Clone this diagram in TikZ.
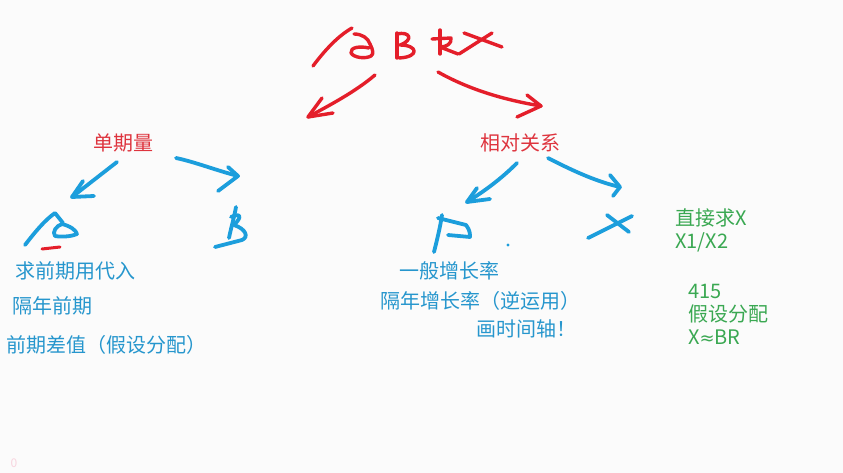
\documentclass[tikz,border=0pt]{standalone}
\usepackage{fontspec}
\setmainfont{Noto Sans CJK SC}
\newfontfamily\symfont{DejaVu Sans}
\definecolor{penred}{RGB}{228,30,42}
\definecolor{penblue}{RGB}{28,158,220}
\definecolor{txtred}{RGB}{222,52,62}
\definecolor{txtblue}{RGB}{38,150,205}
\definecolor{txtgreen}{RGB}{58,168,82}
\definecolor{board}{RGB}{251,251,251}
\begin{document}
\begin{tikzpicture}[x=1pt,y=-1pt,
  redpen/.style={draw=penred,line width=3.4pt,line cap=round,line join=round},
  bluepen/.style={draw=penblue,line width=3.8pt,line cap=round,line join=round},
  lbl/.style={font=\fontsize{20}{23}\selectfont,inner sep=0pt},
  redlbl/.style={lbl,text=txtred},
  bluelbl/.style={lbl,text=txtblue,anchor=west},
  greenlbl/.style={lbl,text=txtgreen,anchor=west}]
\fill[board] (0,0) rectangle (843,473);
\useasboundingbox (0,0) rectangle (843,473);
% ---- top red handwriting "aBRX"
\draw[redpen] (313,66) .. controls (325,50) and (338,36) .. (352,28);
\draw[redpen] (354,34) .. controls (362,34) and (368,38) .. (370,44)
  .. controls (373,50) and (374,54) .. (371,56)
  .. controls (366,59) and (354,58) .. (351,53) .. controls (350,47) and (360,46) .. (369,48);
\draw[redpen] (397,33) -- (397,58);
\draw[redpen] (397,34) .. controls (410,31) and (414,40) .. (400,45)
  .. controls (418,45) and (420,57) .. (399,58);
\draw[redpen] (440,30) -- (440,54);
\draw[redpen] (432,39) -- (451,38) .. controls (452,44) and (446,47) .. (440,47) -- (458,54);
\draw[redpen] (459,54) -- (492,33);
\draw[redpen] (464,33) -- (502,47);
% red arrows
\draw[redpen] (375,75) .. controls (355,92) and (330,105) .. (308,117);
\draw[redpen] (322,98) -- (308,117) -- (333,113);
\draw[redpen] (438,72) .. controls (470,90) and (505,100) .. (541,106);
\draw[redpen] (527,95) -- (541,106) -- (517,117);
% ---- labels
\node[redlbl] (dq) at (123,143) {单期量};
\node[redlbl] (xd) at (520,143) {相对关系};
% left blue arrows
\draw[bluepen] (117,162) -- (72,197);
\draw[bluepen] (83,181) -- (72,197) -- (94,196);
\draw[bluepen] (176,158) .. controls (195,162) and (215,170) .. (238,176);
\draw[bluepen] (228,167) -- (238,176) -- (218,191);
% blue A-like glyph
\draw[bluepen] (25,245) .. controls (35,232) and (45,220) .. (55,213) -- (63,223);
\draw[bluepen] (62,224) .. controls (70,226) and (76,230) .. (77,234)
  .. controls (70,237) and (60,237) .. (55,236) .. controls (52,232) and (56,226) .. (62,224);
\draw[redpen,line width=3pt] (42,249) -- (60,247);
% blue B glyph
\draw[bluepen] (236,207) .. controls (234,218) and (231,228) .. (229,238);
\draw[bluepen] (231,217) .. controls (240,213) and (243,216) .. (234,225)
  .. controls (246,229) and (249,237) .. (242,240) -- (215,247);
% right blue arrows
\draw[bluepen] (517,163) .. controls (500,180) and (483,192) .. (467,202);
\draw[bluepen] (477,188) -- (467,202) -- (490,199);
\draw[bluepen] (548,158) .. controls (575,172) and (598,182) .. (620,187);
\draw[bluepen] (610,175) -- (620,187) -- (613,196);
% blue P-like glyph
\draw[bluepen] (442,215) .. controls (440,228) and (437,240) .. (434,252);
\draw[bluepen] (438,218) -- (466,225) .. controls (470,230) and (470,234) .. (470,237) -- (448,235);
\fill[penblue] (508,245) circle (1.6);
% blue X glyph
\draw[bluepen] (588,238) -- (632,216);
\draw[bluepen] (607,215) -- (629,232);
% ---- blue texts
\node[bluelbl] (t1) at (15,271) {求前期用代入};
\node[bluelbl] (t2) at (12,306) {隔年前期};
\node[bluelbl] (t3) at (6,345) {前期差值（假设分配）};
\node[bluelbl] (t4) at (399,271) {一般增长率};
\node[bluelbl] (t5) at (380,301) {隔年增长率（逆运用）};
\node[bluelbl] (t6) at (476,329) {画时间轴！};
% ---- green texts
\node[greenlbl] (g1) at (675,218) {直接求X};
\node[greenlbl] (g2) at (675,242) {X1/X2};
\node[greenlbl] (g3) at (688,291) {415};
\node[greenlbl] (g4) at (688,314) {假设分配};
\node[greenlbl] (g5) at (688,337) {X{\symfont\fontsize{18}{22}\selectfont ≈}BR};
\node[font=\fontsize{12}{14}\selectfont,text={rgb,255:red,248;green,212;blue,222},inner sep=0pt] (zero) at (14,463) {0};
\end{tikzpicture}
\end{document}
